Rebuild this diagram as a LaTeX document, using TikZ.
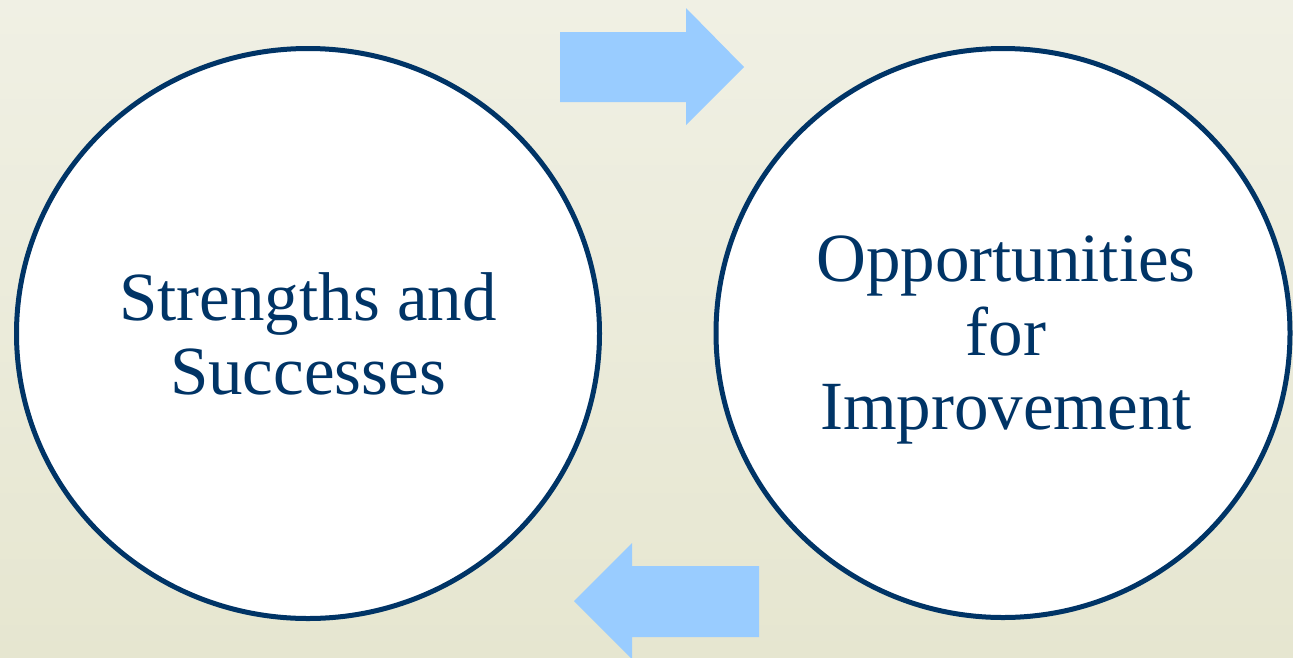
\documentclass[tikz,border=0pt]{standalone}
\usepackage{fontspec}
\setmainfont{Liberation Serif}
\usepackage{tikz}
\usetikzlibrary{shapes.geometric,positioning,calc}
\definecolor{navyline}{RGB}{0,52,102}
\definecolor{arrowblue}{RGB}{153,204,255}
\definecolor{bgtop}{RGB}{240,240,228}
\definecolor{bgbottom}{RGB}{230,230,208}

\begin{document}
\begin{tikzpicture}[
  x=1pt, y=-1pt,
  bubble/.style={ellipse, draw=navyline, line width=5pt, fill=white, inner sep=0pt},
  bubbletext/.style={align=center, text=navyline, inner sep=0pt,
                     font=\fontsize{69}{74}\selectfont},
  blockarr/.style={fill=arrowblue, draw=none},
]
  %% Background with soft vertical gradient
  \shade[top color=bgtop, bottom color=bgbottom] (0,0) rectangle (1293,657);
  \useasboundingbox (0,0) rectangle (1293,657);

  %% The two circles
  \node[bubble, minimum width=583pt, minimum height=570pt] (strengths) at (308,333.5) {};
  \node[bubbletext] (strengthstext) at (strengths.center) {Strengths and\\Successes};
  \node[bubble, minimum width=574pt, minimum height=569pt] (opps) at (1003,333) {};
  \node[bubbletext] (oppstext) at ($(opps.center)+(3,7)$)
       {Opportunities\\for\\Improvement};

  %% Top block arrow, pointing right
  \coordinate (ttip) at (744,67);
  \fill[blockarr] (560,32) -- (686,32) -- (686,8) -- (ttip)
                  -- (686,125) -- (686,102) -- (560,102) -- cycle;
  %% Bottom block arrow, pointing left
  \coordinate (btip) at (574,601);
  \fill[blockarr] (759,566) -- (632,566) -- (632,543) -- (btip)
                  -- (632,659) -- (632,637) -- (759,637) -- cycle;
\end{tikzpicture}
\end{document}
